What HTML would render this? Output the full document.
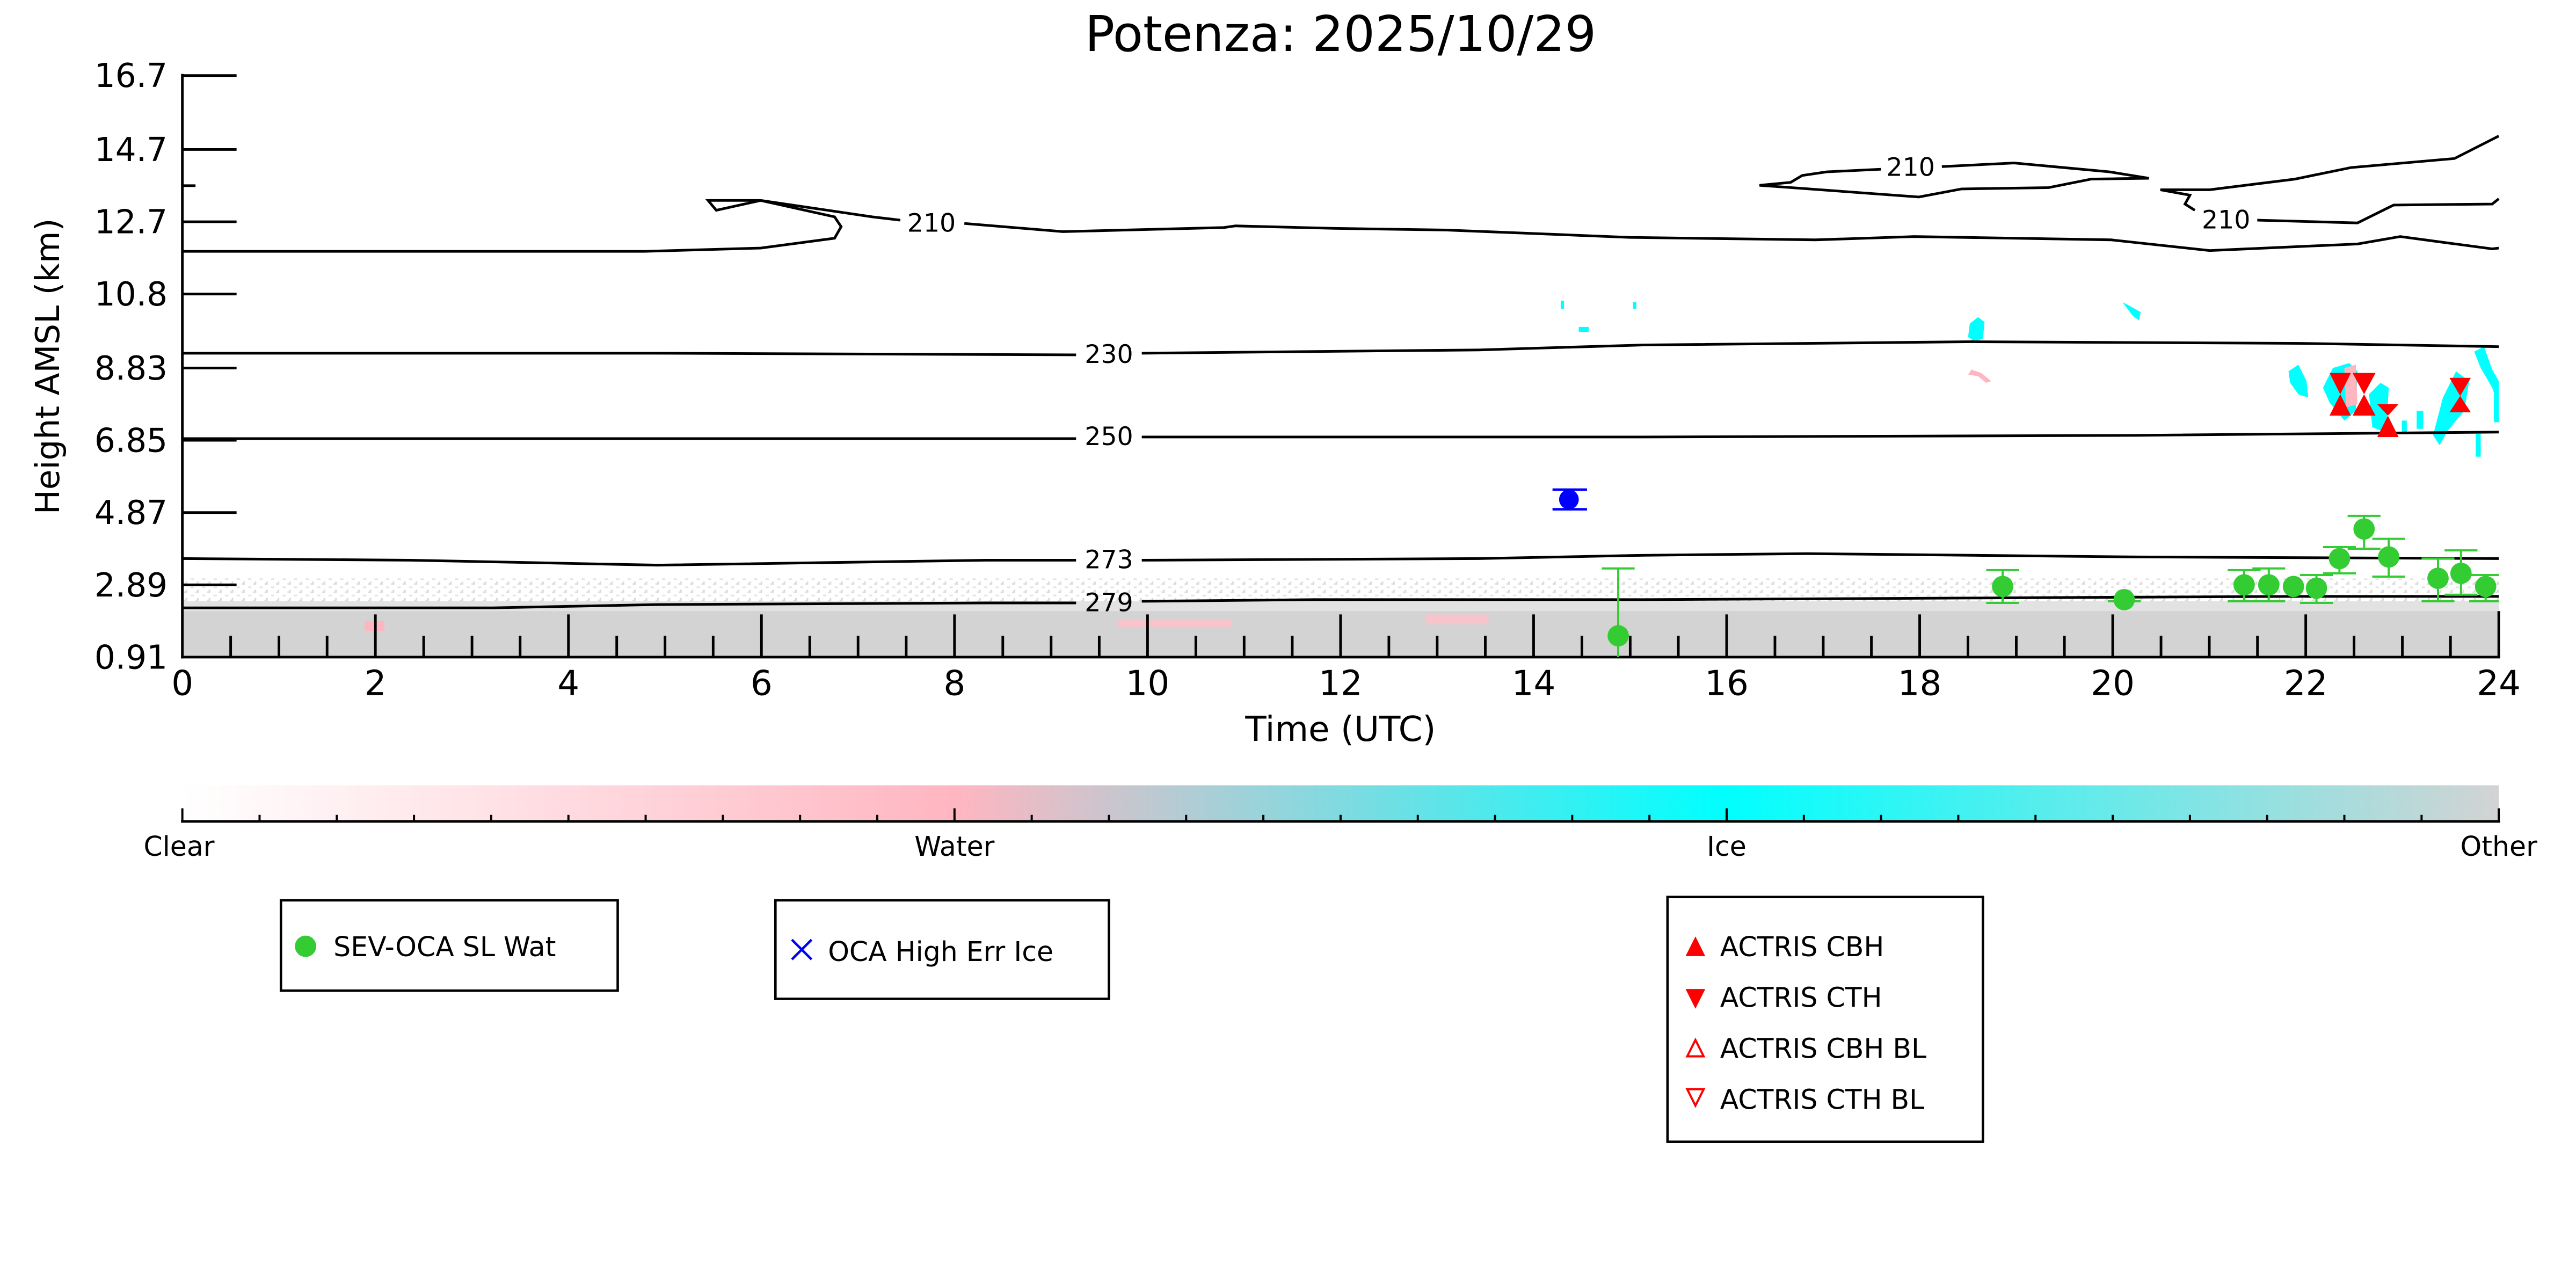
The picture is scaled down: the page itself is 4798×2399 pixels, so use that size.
<!DOCTYPE html>
<html><head><meta charset="utf-8"><style>
html,body{margin:0;padding:0;background:#fff;}
svg{display:block;}
text{font-family:"DejaVu Sans","Liberation Sans",sans-serif;}
</style></head><body>
<svg width="4798" height="2399" viewBox="0 0 1568 784" preserveAspectRatio="none" xmlns="http://www.w3.org/2000/svg">
<defs>
<linearGradient id="cb" x1="0" x2="1" y1="0" y2="0">
<stop offset="0" stop-color="#ffffff"/>
<stop offset="0.333" stop-color="#ffb6c1"/>
<stop offset="0.665" stop-color="#00ffff"/>
<stop offset="1" stop-color="#d3d3d3"/>
</linearGradient>
<pattern id="spk" width="7" height="5" patternUnits="userSpaceOnUse">
<rect width="7" height="5" fill="#fff"/>
<rect x="0" y="0" width="2" height="1" fill="#ddd"/>
<rect x="4" y="2" width="2" height="1" fill="#e4e4e4"/>
<rect x="1" y="4" width="1" height="1" fill="#d8d8d8"/>
</pattern>
</defs>
<text x="816" y="31" font-size="30" text-anchor="middle">Potenza: 2025/10/29</text>
<!-- ground clutter -->
<rect x="111" y="352" width="1410" height="14" fill="url(#spk)"/>
<rect x="111" y="366" width="1410" height="8" fill="#e2e2e2"/>
<rect x="111" y="372" width="1410" height="28" fill="#d3d3d3"/>
<!-- pink / cyan patches -->
<rect x="222" y="378" width="12" height="6" fill="#ffb6c1"/>
<rect x="680" y="377" width="70" height="5" fill="#ffc0c8" opacity="0.8"/>
<rect x="868" y="374" width="38" height="6" fill="#ffc0c8" opacity="0.8"/>
<rect x="950" y="183" width="2" height="5" fill="#00ffff"/>
<rect x="961" y="199" width="6" height="3" fill="#00ffff"/>
<rect x="994" y="184" width="2" height="4" fill="#00ffff"/>
<polygon points="1199,197 1204,193 1208,196 1207,206 1202,208 1198,205" fill="#00ffff"/>
<polygon points="1292,184 1296,186 1303,190 1302,195 1298,192" fill="#00ffff"/>
<polygon points="1200,225 1206,227 1212,232 1209,233 1204,229 1198,228" fill="#ffb6c1"/>
<polygon points="1393,226 1399,222 1404,232 1405,242 1399,240 1394,233" fill="#00ffff"/>
<polygon points="1414,236 1420,224 1430,221 1435,226 1434,250 1427,256 1418,245" fill="#00ffff"/>
<polygon points="1427,224 1434,222 1435,246 1428,248" fill="#ffb6c1"/>
<polygon points="1442,240 1449,233 1454,236 1453,254 1449,262 1444,260" fill="#00ffff"/>
<polygon points="1481,265 1487,242 1495,226 1503,232 1500,250 1490,262 1485,271" fill="#00ffff"/>
<polygon points="1506,214 1512,211 1517,225 1521,232 1521,248 1517,236 1510,224" fill="#00ffff"/>
<rect x="1518" y="240" width="3" height="17" fill="#00ffff"/>
<rect x="1507" y="264" width="3" height="14" fill="#00ffff"/>
<rect x="1462" y="256" width="3" height="8" fill="#00ffff"/>
<rect x="1471" y="250" width="4" height="11" fill="#00ffff"/>
<!-- contours -->
<g fill="none" stroke="#000" stroke-width="1.6">
<polyline points="111,153 392,153 463,151 508,145 512,138 508,132 463,122 431,122 436,128 463,122"/>
<polyline points="463,122 531,132 548,134"/>
<polyline points="587,136 647,141 745,138.5 752,137.5 812,139 880,140 992,144.5 1105,146 1165,144 1285,146 1345,152.5 1435,148.5 1461,144 1517,151.5 1521,151"/>
<polyline points="1145,103 1112,104.6 1097,106.8 1090,111 1071,112.8 1168,119.9 1194,115 1247,114.2 1273,109 1308,108.5 1284,104.6 1226,99.2 1182,101.4"/>
<polyline points="1521,82.8 1494,96.5 1431,102 1397,109 1345,115.5 1315,115.5 1333,118.8 1330,124.2 1336,128"/>
<polyline points="1374,134 1435,135.7 1457,124.8 1517,124.2 1521,121"/>
<polyline points="111,215 400,215 655,216"/>
<polyline points="695,215 900,213 1000,210 1200,208 1400,209 1521,211"/>
<polyline points="111,267 655,267"/>
<polyline points="695,266 1000,266 1300,265 1521,263"/>
<polyline points="111,340 250,341 400,344 600,341 655,341"/>
<polyline points="695,341 900,340 1000,338 1100,337 1300,339 1521,340"/>
<polyline points="111,370 300,370 400,368 600,367 655,367"/>
<polyline points="695,366 800,365 1000,365 1200,364 1400,363 1521,363"/>
</g>
<g font-size="15.5" text-anchor="middle">
<text x="567" y="141">210</text>
<text x="1163" y="107">210</text>
<text x="1355" y="139">210</text>
<text x="675" y="221">230</text>
<text x="675" y="271">250</text>
<text x="675" y="346">273</text>
<text x="675" y="372">279</text>
</g>
<!-- axes -->
<g stroke="#000" stroke-width="1.6">
<line x1="111" y1="45" x2="111" y2="400.8"/>
<line x1="110.2" y1="400" x2="1521.8" y2="400"/>
<line x1="1521" y1="400" x2="1521" y2="372"/>
</g>
<g stroke="#000" stroke-width="1.6">
<line x1="111" y1="46" x2="144" y2="46"/>
<line x1="111" y1="91" x2="144" y2="91"/>
<line x1="111" y1="113" x2="119" y2="113"/>
<line x1="111" y1="135" x2="144" y2="135"/>
<line x1="111" y1="179" x2="144" y2="179"/>
<line x1="111" y1="224" x2="144" y2="224"/>
<line x1="111" y1="268" x2="144" y2="268"/>
<line x1="111" y1="312" x2="144" y2="312"/>
<line x1="111" y1="356" x2="144" y2="356"/>
</g>
<g stroke="#000" stroke-width="1.6">
<line x1="228.5" y1="400" x2="228.5" y2="374"/><line x1="346" y1="400" x2="346" y2="374"/><line x1="463.5" y1="400" x2="463.5" y2="374"/><line x1="581" y1="400" x2="581" y2="374"/><line x1="698.5" y1="400" x2="698.5" y2="374"/><line x1="816" y1="400" x2="816" y2="374"/><line x1="933.5" y1="400" x2="933.5" y2="374"/><line x1="1051" y1="400" x2="1051" y2="374"/><line x1="1168.5" y1="400" x2="1168.5" y2="374"/><line x1="1286" y1="400" x2="1286" y2="374"/><line x1="1403.5" y1="400" x2="1403.5" y2="374"/>
<line x1="140.4" y1="400" x2="140.4" y2="387"/><line x1="169.8" y1="400" x2="169.8" y2="387"/><line x1="199.1" y1="400" x2="199.1" y2="387"/>
<line x1="257.9" y1="400" x2="257.9" y2="387"/><line x1="287.3" y1="400" x2="287.3" y2="387"/><line x1="316.6" y1="400" x2="316.6" y2="387"/>
<line x1="375.4" y1="400" x2="375.4" y2="387"/><line x1="404.8" y1="400" x2="404.8" y2="387"/><line x1="434.1" y1="400" x2="434.1" y2="387"/>
<line x1="492.9" y1="400" x2="492.9" y2="387"/><line x1="522.3" y1="400" x2="522.3" y2="387"/><line x1="551.6" y1="400" x2="551.6" y2="387"/>
<line x1="610.4" y1="400" x2="610.4" y2="387"/><line x1="639.8" y1="400" x2="639.8" y2="387"/><line x1="669.1" y1="400" x2="669.1" y2="387"/>
<line x1="727.9" y1="400" x2="727.9" y2="387"/><line x1="757.3" y1="400" x2="757.3" y2="387"/><line x1="786.6" y1="400" x2="786.6" y2="387"/>
<line x1="845.4" y1="400" x2="845.4" y2="387"/><line x1="874.8" y1="400" x2="874.8" y2="387"/><line x1="904.1" y1="400" x2="904.1" y2="387"/>
<line x1="962.9" y1="400" x2="962.9" y2="387"/><line x1="992.3" y1="400" x2="992.3" y2="387"/><line x1="1021.6" y1="400" x2="1021.6" y2="387"/>
<line x1="1080.4" y1="400" x2="1080.4" y2="387"/><line x1="1109.8" y1="400" x2="1109.8" y2="387"/><line x1="1139.1" y1="400" x2="1139.1" y2="387"/>
<line x1="1197.9" y1="400" x2="1197.9" y2="387"/><line x1="1227.3" y1="400" x2="1227.3" y2="387"/><line x1="1256.6" y1="400" x2="1256.6" y2="387"/>
<line x1="1315.4" y1="400" x2="1315.4" y2="387"/><line x1="1344.8" y1="400" x2="1344.8" y2="387"/><line x1="1374.1" y1="400" x2="1374.1" y2="387"/>
<line x1="1432.9" y1="400" x2="1432.9" y2="387"/><line x1="1462.3" y1="400" x2="1462.3" y2="387"/><line x1="1491.6" y1="400" x2="1491.6" y2="387"/>
</g>
<g font-size="20" text-anchor="end">
<text x="102" y="53">16.7</text><text x="102" y="98">14.7</text><text x="102" y="142">12.7</text><text x="102" y="186">10.8</text><text x="102" y="231">8.83</text><text x="102" y="275">6.85</text><text x="102" y="319">4.87</text><text x="102" y="363">2.89</text><text x="102" y="407">0.91</text>
</g>
<g font-size="21" text-anchor="middle">
<text x="111" y="423">0</text><text x="228.5" y="423">2</text><text x="346" y="423">4</text><text x="463.5" y="423">6</text><text x="581" y="423">8</text><text x="698.5" y="423">10</text><text x="816" y="423">12</text><text x="933.5" y="423">14</text><text x="1051" y="423">16</text><text x="1168.5" y="423">18</text><text x="1286" y="423">20</text><text x="1403.5" y="423">22</text><text x="1521" y="423">24</text>
<text x="816" y="451">Time (UTC)</text>
</g>
<text transform="translate(36,223) rotate(-90)" font-size="20" text-anchor="middle">Height AMSL (km)</text>
<!-- data markers -->
<g stroke="#33cc33" stroke-width="1.3" fill="none">
<line x1="985" y1="346" x2="985" y2="400"/><line x1="975" y1="346" x2="995" y2="346"/>
<line x1="1219" y1="347" x2="1219" y2="367"/><line x1="1209" y1="347" x2="1229" y2="347"/><line x1="1209" y1="367" x2="1229" y2="367"/>
<line x1="1283" y1="366" x2="1303" y2="366"/>
<line x1="1366" y1="347" x2="1366" y2="366"/><line x1="1356" y1="347" x2="1376" y2="347"/><line x1="1356" y1="366" x2="1376" y2="366"/>
<line x1="1381" y1="346" x2="1381" y2="366"/><line x1="1371" y1="346" x2="1391" y2="346"/><line x1="1371" y1="366" x2="1391" y2="366"/>
<line x1="1410" y1="350" x2="1410" y2="367"/><line x1="1400" y1="350" x2="1420" y2="350"/><line x1="1400" y1="367" x2="1420" y2="367"/>
<line x1="1424" y1="333" x2="1424" y2="349"/><line x1="1414" y1="333" x2="1434" y2="333"/><line x1="1414" y1="349" x2="1434" y2="349"/>
<line x1="1439" y1="314" x2="1439" y2="334"/><line x1="1429" y1="314" x2="1449" y2="314"/><line x1="1429" y1="334" x2="1449" y2="334"/>
<line x1="1454" y1="328" x2="1454" y2="351"/><line x1="1444" y1="328" x2="1464" y2="328"/><line x1="1444" y1="351" x2="1464" y2="351"/>
<line x1="1484" y1="340" x2="1484" y2="366"/><line x1="1474" y1="340" x2="1494" y2="340"/><line x1="1474" y1="366" x2="1494" y2="366"/>
<line x1="1498" y1="335" x2="1498" y2="362"/><line x1="1488" y1="335" x2="1508" y2="335"/><line x1="1488" y1="362" x2="1508" y2="362"/>
<line x1="1513" y1="350" x2="1513" y2="366"/><line x1="1503" y1="350" x2="1521" y2="350"/><line x1="1503" y1="366" x2="1521" y2="366"/>
</g>
<g fill="#33cc33">
<circle cx="985" cy="387" r="6.5"/><circle cx="1219" cy="357" r="6.5"/><circle cx="1293" cy="365" r="6.5"/><circle cx="1366" cy="356" r="6.5"/><circle cx="1381" cy="356" r="6.5"/><circle cx="1396" cy="357" r="6.5"/><circle cx="1410" cy="358" r="6.5"/><circle cx="1424" cy="340" r="6.5"/><circle cx="1439" cy="322" r="6.5"/><circle cx="1454" cy="339" r="6.5"/><circle cx="1484" cy="352" r="6.5"/><circle cx="1498" cy="349" r="6.5"/><circle cx="1513" cy="357" r="6.5"/>
</g>
<g stroke="#0000ff" stroke-width="1.5"><line x1="945" y1="298" x2="966" y2="298"/><line x1="945" y1="310" x2="966" y2="310"/><line x1="955" y1="298" x2="955" y2="310"/></g>
<circle cx="955" cy="304" r="6" fill="#0000ff"/>
<g fill="#ff0000">
<polygon points="1418,227 1431,227 1424.5,240"/><polygon points="1418,253 1431,253 1424.5,240"/>
<polygon points="1432,227 1446,227 1439,240"/><polygon points="1432,253 1446,253 1439,240"/>
<polygon points="1447,246 1460,246 1453.5,253"/><polygon points="1447,266 1460,266 1453.5,253"/>
<polygon points="1491,230 1504,230 1497.5,241"/><polygon points="1491,251 1504,251 1497.5,241"/>
</g>
<!-- colorbar -->
<rect x="111" y="478" width="1410" height="22" fill="url(#cb)"/>
<line x1="110.2" y1="500" x2="1521.8" y2="500" stroke="#000" stroke-width="1.6"/>
<g stroke="#000" stroke-width="1.3">
<line x1="111" y1="500" x2="111" y2="492"/><line x1="581" y1="500" x2="581" y2="492"/><line x1="1051" y1="500" x2="1051" y2="492"/><line x1="1521" y1="500" x2="1521" y2="492"/>
<line x1="158" y1="500" x2="158" y2="496"/><line x1="205" y1="500" x2="205" y2="496"/><line x1="252" y1="500" x2="252" y2="496"/><line x1="299" y1="500" x2="299" y2="496"/><line x1="346" y1="500" x2="346" y2="496"/><line x1="393" y1="500" x2="393" y2="496"/><line x1="440" y1="500" x2="440" y2="496"/><line x1="487" y1="500" x2="487" y2="496"/><line x1="534" y1="500" x2="534" y2="496"/>
<line x1="628" y1="500" x2="628" y2="496"/><line x1="675" y1="500" x2="675" y2="496"/><line x1="722" y1="500" x2="722" y2="496"/><line x1="769" y1="500" x2="769" y2="496"/><line x1="816" y1="500" x2="816" y2="496"/><line x1="863" y1="500" x2="863" y2="496"/><line x1="910" y1="500" x2="910" y2="496"/><line x1="957" y1="500" x2="957" y2="496"/><line x1="1004" y1="500" x2="1004" y2="496"/>
<line x1="1098" y1="500" x2="1098" y2="496"/><line x1="1145" y1="500" x2="1145" y2="496"/><line x1="1192" y1="500" x2="1192" y2="496"/><line x1="1239" y1="500" x2="1239" y2="496"/><line x1="1286" y1="500" x2="1286" y2="496"/><line x1="1333" y1="500" x2="1333" y2="496"/><line x1="1380" y1="500" x2="1380" y2="496"/><line x1="1427" y1="500" x2="1427" y2="496"/><line x1="1474" y1="500" x2="1474" y2="496"/>
</g>
<g font-size="16.5" text-anchor="middle">
<text x="109" y="521">Clear</text><text x="581" y="521">Water</text><text x="1051" y="521">Ice</text><text x="1521" y="521">Other</text>
</g>
<!-- legends -->
<g fill="#fff" stroke="#000" stroke-width="1.5">
<rect x="171" y="548" width="205" height="55"/>
<rect x="472" y="548" width="203" height="60"/>
<rect x="1015" y="546" width="192" height="149"/>
</g>
<circle cx="186" cy="576" r="6.5" fill="#33cc33"/>
<text x="203" y="582" font-size="16.5">SEV-OCA SL Wat</text>
<g stroke="#0000ff" stroke-width="1.5"><line x1="482" y1="572" x2="494" y2="584"/><line x1="482" y1="584" x2="494" y2="572"/></g>
<text x="504" y="585" font-size="16.5">OCA High Err Ice</text>
<polygon points="1026,582 1038,582 1032,570" fill="#ff0000"/>
<polygon points="1026,602 1038,602 1032,614" fill="#ff0000"/>
<polygon points="1027,643 1037,643 1032,633" fill="none" stroke="#ff0000" stroke-width="1.3"/>
<polygon points="1027,663 1037,663 1032,673" fill="none" stroke="#ff0000" stroke-width="1.3"/>
<g font-size="16.5">
<text x="1047" y="582">ACTRIS CBH</text>
<text x="1047" y="613">ACTRIS CTH</text>
<text x="1047" y="644">ACTRIS CBH BL</text>
<text x="1047" y="675">ACTRIS CTH BL</text>
</g>
</svg>
</body></html>
